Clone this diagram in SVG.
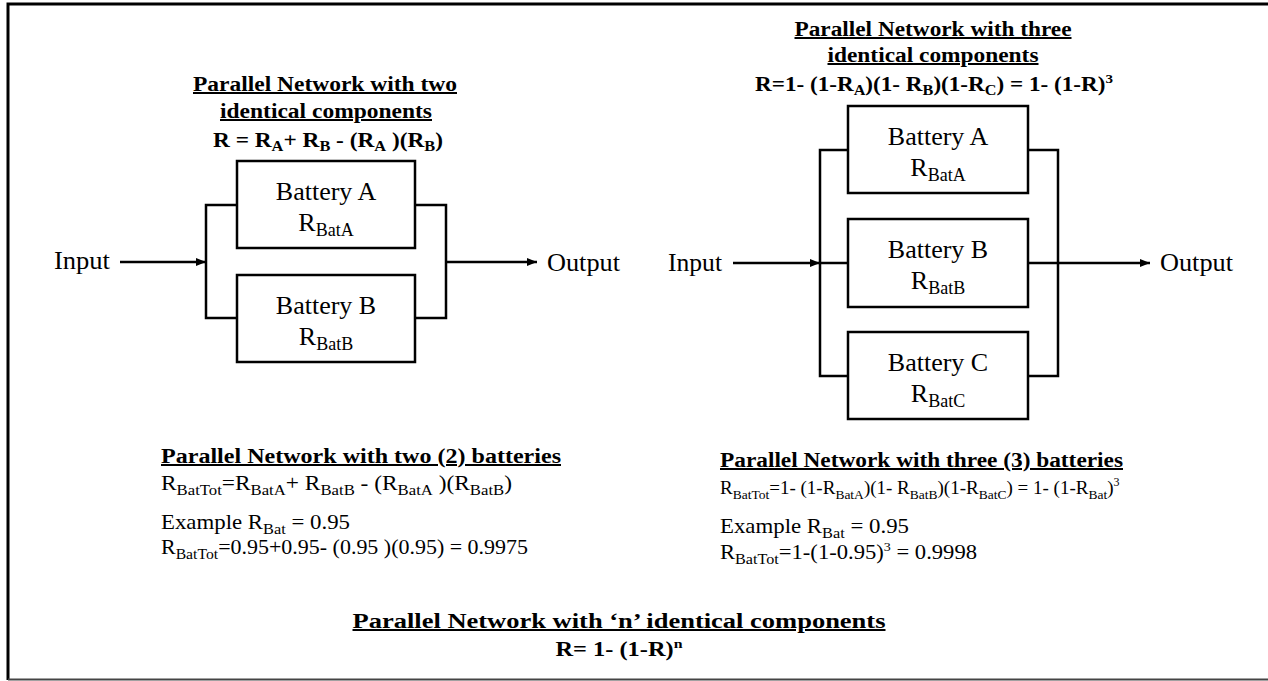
<svg xmlns="http://www.w3.org/2000/svg" width="1268" height="681" viewBox="0 0 1268 681" font-family="Liberation Serif">
<defs>
<style>
.t{font-family:'Liberation Serif',serif;font-weight:bold;font-size:20px;text-decoration:underline}
.f{font-family:'Liberation Serif',serif;font-weight:bold;font-size:20px}
.b{font-family:'Liberation Serif',serif;font-size:26px;text-anchor:middle}
.io{font-family:'Liberation Serif',serif;font-size:26px}
.n{font-family:'Liberation Serif',serif;font-size:21px}
.m{font-family:'Liberation Serif',serif;font-size:19px}
.box{fill:#fff;stroke:#000;stroke-width:2.5}
.w{fill:none;stroke:#000;stroke-width:2.5}
</style>
<marker id="ah" viewBox="0 0 10 10" refX="10" refY="5" markerWidth="10" markerHeight="10" markerUnits="userSpaceOnUse" orient="auto">
<path d="M0,1 L10,5 L0,9 z" fill="#000"/>
</marker>
</defs>
<rect width="1268" height="681" fill="#fff"/>
<g id="frame">
<path d="M8,680 V4 H1268" fill="none" stroke="#000" stroke-width="3"/>
<path d="M8,679.5 H1268" fill="none" stroke="#444" stroke-width="2"/>
</g>

<g id="connectors">
<path class="w" d="M237,205 H206 V318 H237"/>
<path class="w" d="M415,205 H446 V318 H415"/>
<path class="w" d="M120,262 H206" marker-end="url(#ah)"/>
<path class="w" d="M446,262 H537" marker-end="url(#ah)"/>
<path class="w" d="M848,150 H820 V376 H848"/>
<path class="w" d="M1028,150 H1058 V376 H1028"/>
<path class="w" d="M733,263 H820" marker-end="url(#ah)"/>
<path class="w" d="M820,263 H848"/>
<path class="w" d="M1028,263 H1150" marker-end="url(#ah)"/>
</g>

<g fill="#000">
<g id="left-title">
<text font-family="Liberation Serif" class="t" x="325" y="91" text-anchor="middle" textLength="264" lengthAdjust="spacingAndGlyphs">Parallel Network with two</text>
<text font-family="Liberation Serif" class="t" x="326" y="118" text-anchor="middle" textLength="212" lengthAdjust="spacingAndGlyphs">identical components</text>
<text font-family="Liberation Serif" class="f" x="213" y="147" textLength="230" lengthAdjust="spacingAndGlyphs">R = R<tspan dy="4" font-size="14">A</tspan><tspan dy="-4">+ R</tspan><tspan dy="4" font-size="14">B</tspan><tspan dy="-4"> - (R</tspan><tspan dy="4" font-size="14">A</tspan><tspan dy="-4"> )(R</tspan><tspan dy="4" font-size="14">B</tspan><tspan dy="-4">)</tspan></text>
</g>

<g id="left-input"><text font-family="Liberation Serif" class="io" x="54" y="269" textLength="56" lengthAdjust="spacingAndGlyphs">Input</text></g>
<g id="left-output"><text font-family="Liberation Serif" class="io" x="547" y="271" textLength="73" lengthAdjust="spacingAndGlyphs">Output</text></g>

<g id="left-batA">
<rect class="box" x="237" y="161" width="178" height="87"/>
<text font-family="Liberation Serif" class="b" x="326" y="200">Battery A</text>
<text font-family="Liberation Serif" class="b" x="326" y="231">R<tspan dy="5" font-size="18">BatA</tspan></text>
</g>
<g id="left-batB">
<rect class="box" x="237" y="275" width="178" height="87"/>
<text font-family="Liberation Serif" class="b" x="326" y="314">Battery B</text>
<text font-family="Liberation Serif" class="b" x="326" y="345">R<tspan dy="5" font-size="18">BatB</tspan></text>
</g>

<g id="right-title">
<text font-family="Liberation Serif" class="t" x="933" y="36" text-anchor="middle" textLength="277" lengthAdjust="spacingAndGlyphs">Parallel Network with three</text>
<text font-family="Liberation Serif" class="t" x="933" y="62" text-anchor="middle" textLength="211" lengthAdjust="spacingAndGlyphs">identical components</text>
<text font-family="Liberation Serif" class="f" x="755" y="91" textLength="358" lengthAdjust="spacingAndGlyphs">R=1- (1-R<tspan dy="4" font-size="14">A</tspan><tspan dy="-4">)(1- R</tspan><tspan dy="4" font-size="14">B</tspan><tspan dy="-4">)(1-R</tspan><tspan dy="4" font-size="14">C</tspan><tspan dy="-4">) = 1- (1-R)</tspan><tspan dy="-8" font-size="13">3</tspan></text>
</g>

<g id="right-input"><text font-family="Liberation Serif" class="io" x="668" y="271" textLength="54" lengthAdjust="spacingAndGlyphs">Input</text></g>
<g id="right-output"><text font-family="Liberation Serif" class="io" x="1160" y="271" textLength="73" lengthAdjust="spacingAndGlyphs">Output</text></g>

<g id="right-batA">
<rect class="box" x="848" y="106" width="180" height="87"/>
<text font-family="Liberation Serif" class="b" x="938" y="145">Battery A</text>
<text font-family="Liberation Serif" class="b" x="938" y="176">R<tspan dy="5" font-size="18">BatA</tspan></text>
</g>
<g id="right-batB">
<rect class="box" x="848" y="219" width="180" height="88"/>
<text font-family="Liberation Serif" class="b" x="938" y="258">Battery B</text>
<text font-family="Liberation Serif" class="b" x="938" y="289">R<tspan dy="5" font-size="18">BatB</tspan></text>
</g>
<g id="right-batC">
<rect class="box" x="848" y="332" width="180" height="87"/>
<text font-family="Liberation Serif" class="b" x="938" y="371">Battery C</text>
<text font-family="Liberation Serif" class="b" x="938" y="402">R<tspan dy="5" font-size="18">BatC</tspan></text>
</g>

<g id="left-notes">
<text font-family="Liberation Serif" class="t" x="161" y="463" textLength="400" lengthAdjust="spacingAndGlyphs">Parallel Network with two (2) batteries</text>
<text font-family="Liberation Serif" class="n" x="161" y="490" textLength="351" lengthAdjust="spacingAndGlyphs">R<tspan dy="5" font-size="15">BatTot</tspan><tspan dy="-5">=R</tspan><tspan dy="5" font-size="15">BatA</tspan><tspan dy="-5">+ R</tspan><tspan dy="5" font-size="15">BatB</tspan><tspan dy="-5"> - (R</tspan><tspan dy="5" font-size="15">BatA</tspan><tspan dy="-5"> )(R</tspan><tspan dy="5" font-size="15">BatB</tspan><tspan dy="-5">)</tspan></text>
<text font-family="Liberation Serif" class="n" x="161" y="529" textLength="189" lengthAdjust="spacingAndGlyphs">Example  R<tspan dy="5" font-size="15">Bat</tspan><tspan dy="-5"> = 0.95</tspan></text>
<text font-family="Liberation Serif" class="n" x="161" y="554" textLength="367" lengthAdjust="spacingAndGlyphs">R<tspan dy="5" font-size="15">BatTot</tspan><tspan dy="-5">=0.95+0.95- (0.95 )(0.95) = 0.9975</tspan></text>
</g>

<g id="right-notes">
<text font-family="Liberation Serif" class="t" x="720" y="467" textLength="403" lengthAdjust="spacingAndGlyphs">Parallel Network with three (3) batteries</text>
<text font-family="Liberation Serif" class="m" x="720" y="494">R<tspan dy="5" font-size="13.5">BatTot</tspan><tspan dy="-5">=1- (1-R</tspan><tspan dy="5" font-size="13.5">BatA</tspan><tspan dy="-5">)(1- R</tspan><tspan dy="5" font-size="13.5">BatB</tspan><tspan dy="-5">)(1-R</tspan><tspan dy="5" font-size="13.5">BatC</tspan><tspan dy="-5">) = 1- (1-R</tspan><tspan dy="5" font-size="13.5">Bat</tspan><tspan dy="-5">)</tspan><tspan dy="-8" font-size="12">3</tspan></text>
<text font-family="Liberation Serif" class="n" x="720" y="533" textLength="189" lengthAdjust="spacingAndGlyphs">Example  R<tspan dy="5" font-size="15">Bat</tspan><tspan dy="-5"> = 0.95</tspan></text>
<text font-family="Liberation Serif" class="n" x="720" y="559" textLength="257" lengthAdjust="spacingAndGlyphs">R<tspan dy="5" font-size="15">BatTot</tspan><tspan dy="-5">=1-(1-0.95)</tspan><tspan dy="-8" font-size="13">3</tspan><tspan dy="8"> = 0.9998</tspan></text>
</g>

<g id="general">
<text font-family="Liberation Serif" class="t" x="619" y="628" text-anchor="middle" textLength="533" lengthAdjust="spacingAndGlyphs">Parallel Network with ‘n’ identical components</text>
<text font-family="Liberation Serif" class="f" x="619" y="656" text-anchor="middle" textLength="127" lengthAdjust="spacingAndGlyphs">R= 1- (1-R)<tspan dy="-8" font-size="13">n</tspan></text>
</g>
</g>
</svg>
